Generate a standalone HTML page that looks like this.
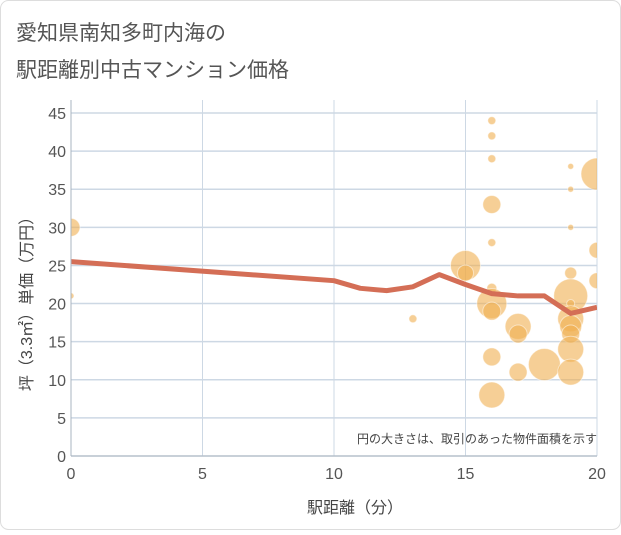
<!DOCTYPE html>
<html><head><meta charset="utf-8"><style>
body{margin:0;background:#fff;font-family:"Liberation Sans","Noto Sans CJK JP",sans-serif}
svg text{font-family:"Liberation Sans","Noto Sans CJK JP",sans-serif}
</style></head><body>
<svg id="c" width="621" height="530" xmlns="http://www.w3.org/2000/svg">
<defs><clipPath id="pc"><rect x="71" y="100" width="526" height="356"/></clipPath></defs>
<rect x="0.5" y="0.5" width="620" height="529" rx="8" fill="#fff" stroke="#ddd"/>
<text x="16" y="40" font-size="21" fill="#555">愛知県南知多町内海の</text>
<text x="16" y="77" font-size="21" fill="#555">駅距離別中古マンション価格</text>
<g id="grid"></g>
<g id="bubbles" clip-path="url(#pc)"></g>
<g id="lineg" clip-path="url(#pc)"></g>
<g id="axes"></g>
<text x="597" y="443" font-size="12" fill="#444" text-anchor="end">円の大きさは、取引のあった物件面積を示す</text>
<text x="355" y="513" font-size="16" fill="#444" text-anchor="middle">駅距離（分）</text>
<text transform="translate(32,300) rotate(-90)" font-size="16" fill="#444" text-anchor="middle">坪（3.3㎡）単価（万円）</text>
</svg>
<script>
const xTicks=[0,5,10,15,20];
const yTicks=[0,5,10,15,20,25,30,35,40,45];
const lineX=[0,10,11,12,13,14,15,16,17,18,19,20];
const lineY=[25.5,23,22,21.7,22.2,23.8,22.5,21.3,21,21,18.7,19.5];
const bubX=[0,0,13,15,15,16,16,16,16,16,16,16,16,16,16,17,17,17,18,19,19,19,19,19,19,19,19,19,19,19,20,20,20];
const bubY=[30,21,18,25,24,44,42,39,33,28,22,20,19,13,8,17,16,11,12,38,35,30,24,21,20,18,17,16,14,11,37,27,23];
const bubR=[9,3,4,15,8,4,4,4,9,4,5,15,9,9,13,13,9,9,16,3,3,3,6,17,4,13,11,9,13,13,16,8,8];
const X0=71,X1=597,Y0=456,Y1=113;
const sx=v=>X0+(v-0)/(20-0)*(X1-X0);
const sy=v=>Y0-(v-0)/(45-0)*(Y0-Y1);
const NS="http://www.w3.org/2000/svg";
function mk(t,a,p){const e=document.createElementNS(NS,t);for(const k in a)e.setAttribute(k,a[k]);p.appendChild(e);return e;}
const grid=document.getElementById('grid'),axes=document.getElementById('axes');
yTicks.forEach(t=>{
 const l=mk('line',{x1:X0,x2:X1,y1:sy(t),y2:sy(t),stroke:'#cdd8e4','stroke-width':1.5},grid);
 
 
 const tx=mk('text',{x:X0-5,y:sy(t)+6,'font-size':16,fill:'#555','text-anchor':'end'},axes);
 tx.textContent=t;
 
 
});
xTicks.forEach(t=>{
 const l=mk('line',{x1:sx(t),x2:sx(t),y1:100,y2:Y0,stroke:'#cdd8e4','stroke-width':1},grid);
 
 
 const tx=mk('text',{x:sx(t),y:Y0+23,'font-size':16,fill:'#555','text-anchor':'middle'},axes);
 tx.textContent=t;
 
 
});
const ax=mk('line',{x1:X0,x2:X0,y1:100,y2:Y0,stroke:'#aab4c0','stroke-width':1},axes);


const bx=mk('line',{x1:X0,x2:X1,y1:Y0,y2:Y0,stroke:'#aab4c0','stroke-width':1},axes);


const bg=document.getElementById('bubbles');
bubX.forEach((x,i)=>{
 const c=mk('circle',{cx:sx(x),cy:sy(bubY[i]),r:bubR[i],fill:'rgba(240,175,80,0.6)',stroke:'rgba(255,255,255,0.5)','stroke-width':1},bg);
 
 
});
const pts=lineX.map((x,i)=>sx(x)+','+sy(lineY[i])).join(' ');
const pl=mk('polyline',{points:pts,fill:'none',stroke:'#d46e56','stroke-width':5,'stroke-linejoin':'round'},document.getElementById('lineg'));


</script>
</body></html>
